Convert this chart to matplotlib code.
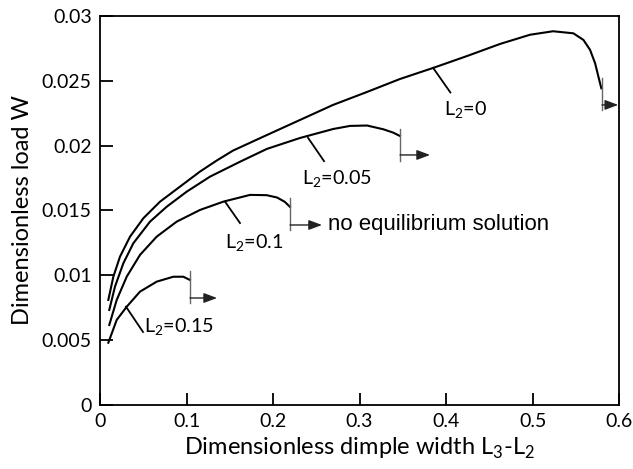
import matplotlib
matplotlib.use("Agg")
import matplotlib.pyplot as plt

plt.rcParams["font.family"] = ["Lato", "DejaVu Sans"]
plt.rcParams["mathtext.fontset"] = "custom"
plt.rcParams["mathtext.rm"] = "Lato"

# --- data ------------------------------------------------------------------
x_l0 = [0.0096, 0.0154, 0.0231, 0.0347, 0.0501, 0.0694, 0.0925, 0.1156, 0.1349,
        0.1538, 0.193, 0.2312, 0.2694, 0.3087, 0.3468, 0.385, 0.4243, 0.4624,
        0.497, 0.5237, 0.5472, 0.5588, 0.5665, 0.5723, 0.5761, 0.5795]
w_l0 = [0.0081, 0.00989, 0.01144, 0.01298, 0.0144, 0.01568, 0.01684, 0.01800,
        0.01885, 0.01962, 0.02082, 0.02198, 0.02314, 0.02414, 0.02514, 0.02599,
        0.02691, 0.02784, 0.02855, 0.02882, 0.02866, 0.02815, 0.02738, 0.02635,
        0.02532, 0.02442]

x_l005 = [0.0107, 0.0173, 0.027, 0.0385, 0.0578, 0.0771, 0.1002, 0.1272, 0.1619,
          0.193, 0.2312, 0.2694, 0.289, 0.3087, 0.3275, 0.339, 0.3468]
w_l005 = [0.00733, 0.00913, 0.01093, 0.01247, 0.01414, 0.01529, 0.01645, 0.01761,
          0.01876, 0.01975, 0.02059, 0.02128, 0.02152, 0.02155, 0.02126, 0.02100,
          0.02074]

x_l01 = [0.0107, 0.0193, 0.0309, 0.0462, 0.0655, 0.0887, 0.1156, 0.1426, 0.1734,
         0.1925, 0.2046, 0.2135, 0.2197]
w_l01 = [0.00617, 0.0081, 0.0099, 0.01157, 0.01298, 0.01414, 0.01504, 0.01568,
         0.0162, 0.01618, 0.01600, 0.01567, 0.01527]

x_l015 = [0.0096, 0.0193, 0.0309, 0.0462, 0.0655, 0.0847, 0.0963, 0.104]
w_l015 = [0.0048, 0.00656, 0.00758, 0.00874, 0.00951, 0.00989, 0.00989, 0.00964]

curves = [(x_l0, w_l0), (x_l005, w_l005), (x_l01, w_l01), (x_l015, w_l015)]

# limit markers: (x, y_bottom, y_top, arrow_y, arrow_end_x)
limits = [(0.5803, 0.02275, 0.02522, 0.02314, 0.599),
          (0.3468, 0.01882, 0.02128, 0.01928, 0.3815),
          (0.2197, 0.0135, 0.01596, 0.01388, 0.2566),
          (0.104, 0.00787, 0.01033, 0.00825, 0.1353)]

# curve labels: text, leader start, leader end, text position
labels = [(r"L$_\mathregular{2}$=0", (0.385, 0.0260), (0.405, 0.0241), (0.398, 0.0227)),
          (r"L$_\mathregular{2}$=0.05", (0.2405, 0.0206), (0.259, 0.0188), (0.2335, 0.0174)),
          (r"L$_\mathregular{2}$=0.1", (0.1445, 0.01568), (0.1618, 0.01403), (0.145, 0.0125)),
          (r"L$_\mathregular{2}$=0.15", (0.0300, 0.00758), (0.0497, 0.00563), (0.0505, 0.0060))]

xticks = [0, 0.1, 0.2, 0.3, 0.4, 0.5, 0.6]
xtick_labels = ["0", "0.1", "0.2", "0.3", "0.4", "0.5", "0.6"]
yticks = [0, 0.005, 0.01, 0.015, 0.02, 0.025, 0.03]
ytick_labels = ["0", "0.005", "0.01", "0.015", "0.02", "0.025", "0.03"]

# --- figure ----------------------------------------------------------------
fig = plt.figure(figsize=(6.33, 4.69), dpi=100)
ax = fig.add_axes([0.158, 0.1365, 0.820, 0.8295])

for xs, ws in curves:
    ax.plot(xs, ws, color="black", lw=1.5, solid_joinstyle="round")

for x, y0, y1, ya, xe in limits:
    ax.plot([x, x], [y0, y1], color="#666666", lw=1.0)
    ax.annotate("", xy=(xe, ya), xytext=(x, ya),
                arrowprops=dict(arrowstyle="-|>,head_length=0.8,head_width=0.3",
                                color="#222222", lw=1.0, shrinkA=0, shrinkB=0))

for text, p0, p1, pt in labels:
    ax.plot([p0[0], p1[0]], [p0[1], p1[1]], color="black", lw=1.3)
    ax.text(pt[0], pt[1], text, fontsize=14.2, va="center", ha="left")

ax.text(0.2636, 0.0139, "no equilibrium solution", fontsize=16,
        va="center", ha="left", family=["Liberation Sans", "DejaVu Sans"])

ax.set_xlim(0, 0.6)
ax.set_ylim(0, 0.03)
ax.set_xticks(xticks)
ax.set_xticklabels(xtick_labels)
ax.set_yticks(yticks)
ax.set_yticklabels(ytick_labels)
ax.tick_params(direction="in", length=9, width=1.3, labelsize=14, pad=6)
for s in ax.spines.values():
    s.set_linewidth(1.3)

ax.set_xlabel(r"Dimensionless dimple width L$_\mathregular{3}$-L$_\mathregular{2}$",
              fontsize=17, labelpad=4)
ax.set_ylabel("Dimensionless load W", fontsize=17, labelpad=6)

fig.savefig("out.png", dpi=100)
